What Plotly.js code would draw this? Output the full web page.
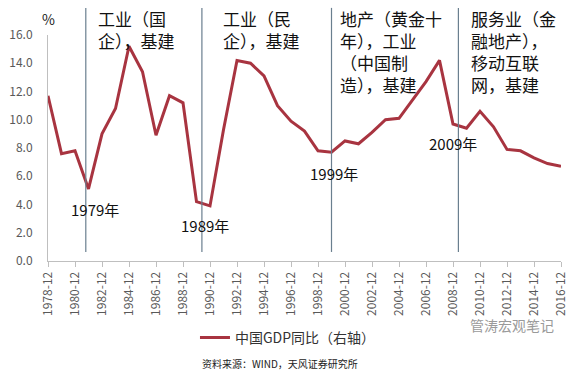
<!DOCTYPE html>
<html>
<head>
<meta charset="utf-8">
<script src="https://cdn.plot.ly/plotly-3.0.1.min.js"></script>
<style>
html,body{margin:0;padding:0;background:#fff;}
#chart{width:575px;height:379px;}
</style>
</head>
<body>
<div id="chart"></div>
<script>
// ---- data ----
const years = [1978,1979,1980,1981,1982,1983,1984,1985,1986,1987,1988,1989,1990,1991,1992,1993,1994,1995,1996,1997,1998,1999,2000,2001,2002,2003,2004,2005,2006,2007,2008,2009,2010,2011,2012,2013,2014,2015,2016];
const gdpYoY = [11.7,7.6,7.8,5.1,9.0,10.8,15.2,13.4,8.9,11.7,11.2,4.2,3.9,9.3,14.2,14.0,13.1,11.0,9.9,9.2,7.8,7.7,8.5,8.3,9.1,10.0,10.1,11.4,12.7,14.2,9.7,9.4,10.6,9.5,7.9,7.8,7.3,6.9,6.7];
const tickYears = [1978,1980,1982,1984,1986,1988,1990,1992,1994,1996,1998,2000,2002,2004,2006,2008,2010,2012,2014,2016];
const tickLabels = ['1978-12','1980-12','1982-12','1984-12','1986-12','1988-12','1990-12','1992-12','1994-12','1996-12','1998-12','2000-12','2002-12','2004-12','2006-12','2008-12','2010-12','2012-12','2014-12','2016-12'];
const seriesName = '中国GDP同比（右轴）';
const dividerYears = [1980.8, 1989.4, 1999.0, 2008.4];
const eraTexts = ['工业（国<br>企），基建','工业（民<br>企），基建','地产（黄金十<br>年），工业<br>（中国制<br>造），基建','服务业（金<br>融地产），<br>移动互联<br>网，基建'];
const eraTextX = [1981.55, 1990.85, 1999.45, 2009.2];
const yearLabels = ['1979年','1989年','1999年','2009年'];
const yearLabelX = [1981.5, 1989.6, 1999.2, 2008.0];
const yearLabelY = [3.65, 2.5, 6.2, 8.35];
const sourceText = '资料来源：WIND，天风证券研究所';
const watermark = '管涛宏观笔记';

const FONT = '"Noto Sans CJK SC", "Noto Sans", sans-serif';

const trace = {
  x: years, y: gdpYoY, type: 'scatter', mode: 'lines', name: seriesName,
  line: {color: '#A83440', width: 3}, cliponaxis: false
};

const shapes = dividerYears.map(x => ({
  type: 'line', xref: 'x', yref: 'paper', x0: x, x1: x, y0: 0.04, y1: 1.12,
  line: {color: '#6a7f8f', width: 1.2}
}));

const annotations = [];
eraTexts.forEach((t, i) => annotations.push({
  text: t, xref: 'x', yref: 'paper', x: eraTextX[i], y: 1.135,
  xanchor: 'left', yanchor: 'top', align: 'left', showarrow: false,
  font: {family: FONT, size: 17, color: '#111'}
}));
yearLabels.forEach((t, i) => annotations.push({
  text: t, xref: 'x', yref: 'y', x: yearLabelX[i], y: yearLabelY[i],
  xanchor: 'center', yanchor: 'middle', showarrow: false,
  font: {family: FONT, size: 15, color: '#111'}
}));
annotations.push({
  text: '%', xref: 'paper', yref: 'paper', x: 0, y: 1.071, xanchor: 'center', yanchor: 'middle',
  showarrow: false, font: {family: FONT, size: 14, color: '#222'}
});
annotations.push({
  text: sourceText, xref: 'paper', yref: 'paper', x: 0.296, y: -0.452, xanchor: 'left', yanchor: 'middle',
  showarrow: false, font: {family: FONT, size: 10, color: '#222'}
});
annotations.push({
  text: watermark, xref: 'paper', yref: 'paper', x: 0.99, y: -0.283, xanchor: 'right', yanchor: 'middle',
  showarrow: false, font: {family: FONT, size: 14, color: '#9a9a9a'}
});

const layout = {
  width: 575, height: 379,
  margin: {l: 48, r: 14, t: 35, b: 118, pad: 0},
  paper_bgcolor: '#fff', plot_bgcolor: '#fff',
  font: {family: FONT, color: '#595959'},
  showlegend: true,
  legend: {x: 0.2865, y: -0.34, xanchor: 'left', yanchor: 'middle', orientation: 'h',
           font: {family: FONT, size: 14, color: '#333'}, bgcolor: 'rgba(0,0,0,0)'},
  xaxis: {
    range: [1978, 2016], tickmode: 'array', tickvals: tickYears, ticktext: tickLabels,
    tickangle: -90, ticks: 'outside', ticklen: 5, tickcolor: '#bfbfbf',
    showline: true, linecolor: '#bfbfbf', linewidth: 1, showgrid: false, zeroline: false,
    tickfont: {family: FONT, size: 12, color: '#595959'}
  },
  yaxis: {
    range: [0, 16], tickmode: 'array', tickvals: [0,2,4,6,8,10,12,14,16],
    ticktext: ['0.0','2.0','4.0','6.0','8.0','10.0','12.0','14.0','16.0'],
    ticks: '', showline: true, linecolor: '#bfbfbf', linewidth: 1, showgrid: false, zeroline: false,
    ticklabelstandoff: 12,
    tickfont: {family: FONT, size: 12, color: '#595959'}
  },
  shapes: shapes,
  annotations: annotations
};

Plotly.newPlot('chart', [trace], layout, {displayModeBar: false, staticPlot: true});
</script>
</body>
</html>
